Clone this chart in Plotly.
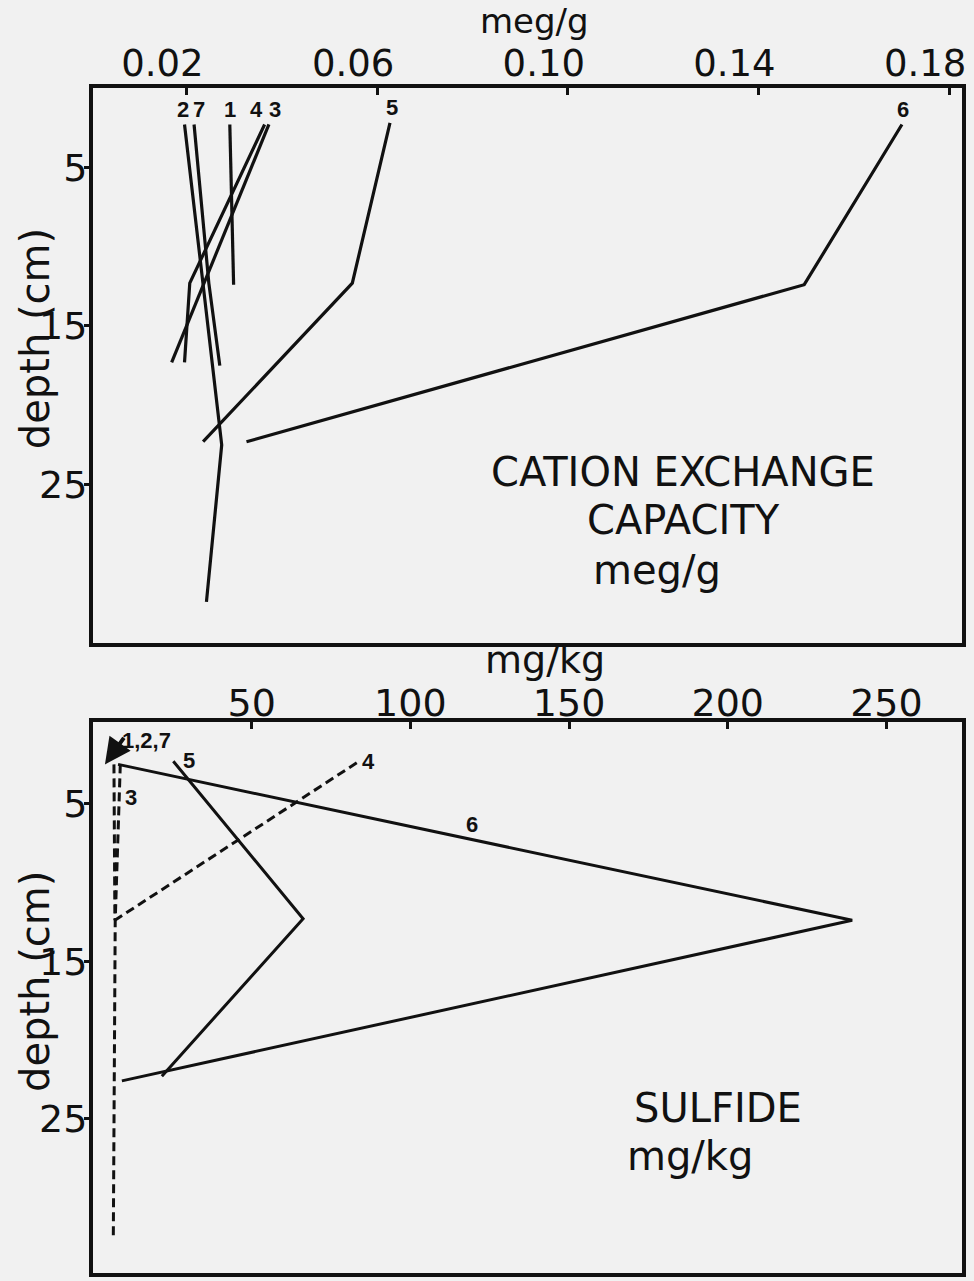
import numpy as np
import plotly.graph_objects as go

# ---- Cation exchange capacity (meg/g) versus depth (cm), stations 1-7 ----
cec_1_val = [0.0291, 0.0299]
cec_1_depth = [2.3, 12.4]
cec_2_val = [0.0196, 0.0235, 0.0274, 0.0242]
cec_2_depth = [2.3, 12.4, 22.5, 32.4]
cec_3_val = [0.0373, 0.0237, 0.0169]
cec_3_depth = [2.3, 12.3, 17.3]
cec_4_val = [0.0364, 0.0207, 0.0196]
cec_4_depth = [2.3, 12.3, 17.3]
cec_5_val = [0.0627, 0.0548, 0.0235]
cec_5_depth = [2.2, 12.3, 22.3]
cec_6_val = [0.1701, 0.1496, 0.0326]
cec_6_depth = [2.3, 12.4, 22.3]
cec_7_val = [0.0216, 0.0247, 0.0270]
cec_7_depth = [2.3, 12.3, 17.5]

# ---- Sulfide (mg/kg) versus depth (cm) ----
sul_127_val = [6.6, 6.9]
sul_127_depth = [2.5, 12.4]
sul_3_val = [8.6, 7.0, 6.4]
sul_3_depth = [2.5, 12.4, 32.6]
sul_4_val = [83.1, 6.9]
sul_4_depth = [2.4, 12.4]
sul_5_val = [25.3, 66.2, 21.7]
sul_5_depth = [2.3, 12.3, 22.3]
sul_6_val = [7.9, 239.2, 9.1]
sul_6_depth = [2.5, 12.4, 22.6]

cec_ticks = [0.02, 0.06, 0.10, 0.14, 0.18]
cec_tick_text = ["0.02", "0.06", "0.10", "0.14", "0.18"]
sul_ticks = [50, 100, 150, 200, 250]
depth_ticks = [5, 15, 25]

INK = "#111111"
PAPER = "#f1f1f1"
FONT = "DejaVu Sans"
LABEL_FONT = dict(family="Liberation Sans", size=22, color=INK, weight="bold")

fig = go.Figure()

cec_series = [
    ("1", cec_1_val, cec_1_depth, 0),
    ("2", cec_2_val, cec_2_depth, -2),
    ("7", cec_7_val, cec_7_depth, 5),
    ("4", cec_4_val, cec_4_depth, -8),
    ("3", cec_3_val, cec_3_depth, 6),
    ("5", cec_5_val, cec_5_depth, 2),
    ("6", cec_6_val, cec_6_depth, 1),
]
for name, xs, ds, shift in cec_series:
    fig.add_trace(go.Scatter(x=xs, y=ds, mode="lines", name=name,
                             line=dict(color=INK, width=3.2),
                             xaxis="x", yaxis="y", showlegend=False))
    fig.add_annotation(x=xs[0], y=ds[0], xref="x", yref="y", text=name,
                       showarrow=False, xshift=shift, yshift=15,
                       font=LABEL_FONT)

sul_series = [
    ("1,2,7", sul_127_val, sul_127_depth, "9px,5px"),
    ("3", sul_3_val, sul_3_depth, "9px,5px"),
    ("4", sul_4_val, sul_4_depth, "9px,5px"),
    ("5", sul_5_val, sul_5_depth, "solid"),
    ("6", sul_6_val, sul_6_depth, "solid"),
]
for name, xs, ds, dash in sul_series:
    fig.add_trace(go.Scatter(x=xs, y=ds, mode="lines", name=name,
                             line=dict(color=INK, width=3, dash=dash),
                             xaxis="x2", yaxis="y2", showlegend=False))

# station labels for the sulfide profiles
fig.add_annotation(x=sul_5_val[0], y=sul_5_depth[0], xref="x2", yref="y2",
                   text="5", showarrow=False, xshift=16, yshift=1, font=LABEL_FONT)
fig.add_annotation(x=sul_4_val[0], y=sul_4_depth[0], xref="x2", yref="y2",
                   text="4", showarrow=False, xshift=12, yshift=1, font=LABEL_FONT)
d3 = 4.6
x3 = float(np.interp(d3, sul_3_depth, sul_3_val))
fig.add_annotation(x=x3, y=d3, xref="x2", yref="y2", text="3",
                   showarrow=False, xshift=12, font=LABEL_FONT)
x6 = 119.4
d6 = float(np.interp(x6, sul_6_val[:2], sul_6_depth[:2]))
fig.add_annotation(x=x6, y=d6, xref="x2", yref="y2", text="6",
                   showarrow=False, yshift=15, font=LABEL_FONT)
# the three near-zero profiles share one arrowed label
fig.add_annotation(x=sul_127_val[0], y=sul_127_depth[0], xref="x2", yref="y2",
                   text="", showarrow=True, ax=20, ay=-28,
                   arrowhead=2, arrowsize=1.3, arrowwidth=4, arrowcolor=INK,
                   xshift=-9, yshift=0)
fig.add_annotation(x=sul_127_val[0], y=sul_127_depth[0], xref="x2", yref="y2",
                   text="1,2,7", showarrow=False, xanchor="left",
                   xshift=6, yshift=24, font=LABEL_FONT)

axis_common = dict(showgrid=False, zeroline=False, showline=True, linewidth=4,
                   linecolor=INK, mirror=True, tickcolor=INK, tickwidth=3)
xtick_font = dict(family=FONT, size=37, color=INK)
ytick_font = dict(family=FONT, size=38, color=INK)

fig.update_layout(
    width=974, height=1281,
    margin=dict(l=93, r=12, t=88, b=4),
    paper_bgcolor=PAPER, plot_bgcolor=PAPER,
    xaxis=dict(domain=[0, 1], anchor="y", side="top",
               range=[0.0004, 0.1827], tickvals=cec_ticks, ticktext=cec_tick_text,
               ticks="inside", ticklen=7, ticklabelshift=-24, ticklabelstandoff=-7,
               tickfont=xtick_font, **axis_common),
    yaxis=dict(domain=[0.5315, 1], anchor="x", range=[35, 0],
               tickvals=depth_ticks, ticks="outside", ticklen=5,
               ticklabelstandoff=-11, tickfont=ytick_font, **axis_common),
    xaxis2=dict(domain=[0, 1], anchor="y2", side="top",
                range=[0, 273.8], tickvals=sul_ticks,
                ticks="inside", ticklen=7, ticklabelstandoff=-13,
                tickfont=dict(family=FONT, size=38, color=INK), **axis_common),
    yaxis2=dict(domain=[0, 0.4651], anchor="x2", range=[34.8, -0.2],
                tickvals=depth_ticks, ticks="outside", ticklen=5,
                ticklabelstandoff=-11, tickfont=ytick_font, **axis_common),
)

for txt, px, py, angle, size, yanchor in [
    ("meg/g", 534, 0, 0, 34, "top"),
    ("mg/kg", 545, 662, 0, 38, "middle"),
    ("depth (cm)", 35, 340, -90, 40, "middle"),
    ("depth (cm)", 35, 985, -90, 40, "middle"),
    ("CATION EXCHANGE", 683, 473, 0, 40, "middle"),
    ("CAPACITY", 683, 521, 0, 40, "middle"),
    ("meg/g", 657, 572, 0, 40, "middle"),
    ("SULFIDE", 718, 1111, 0, 40, "middle"),
    ("mg/kg", 690, 1160, 0, 40, "middle"),
]:
    fig.add_annotation(x=(px - 93) / 869, y=(1277 - py) / 1189,
                       xref="paper", yref="paper", text=txt, showarrow=False,
                       textangle=angle, xanchor="center", yanchor=yanchor,
                       borderpad=0,
                       font=dict(family=FONT, size=size, color=INK))

fig.write_html("out.html")
